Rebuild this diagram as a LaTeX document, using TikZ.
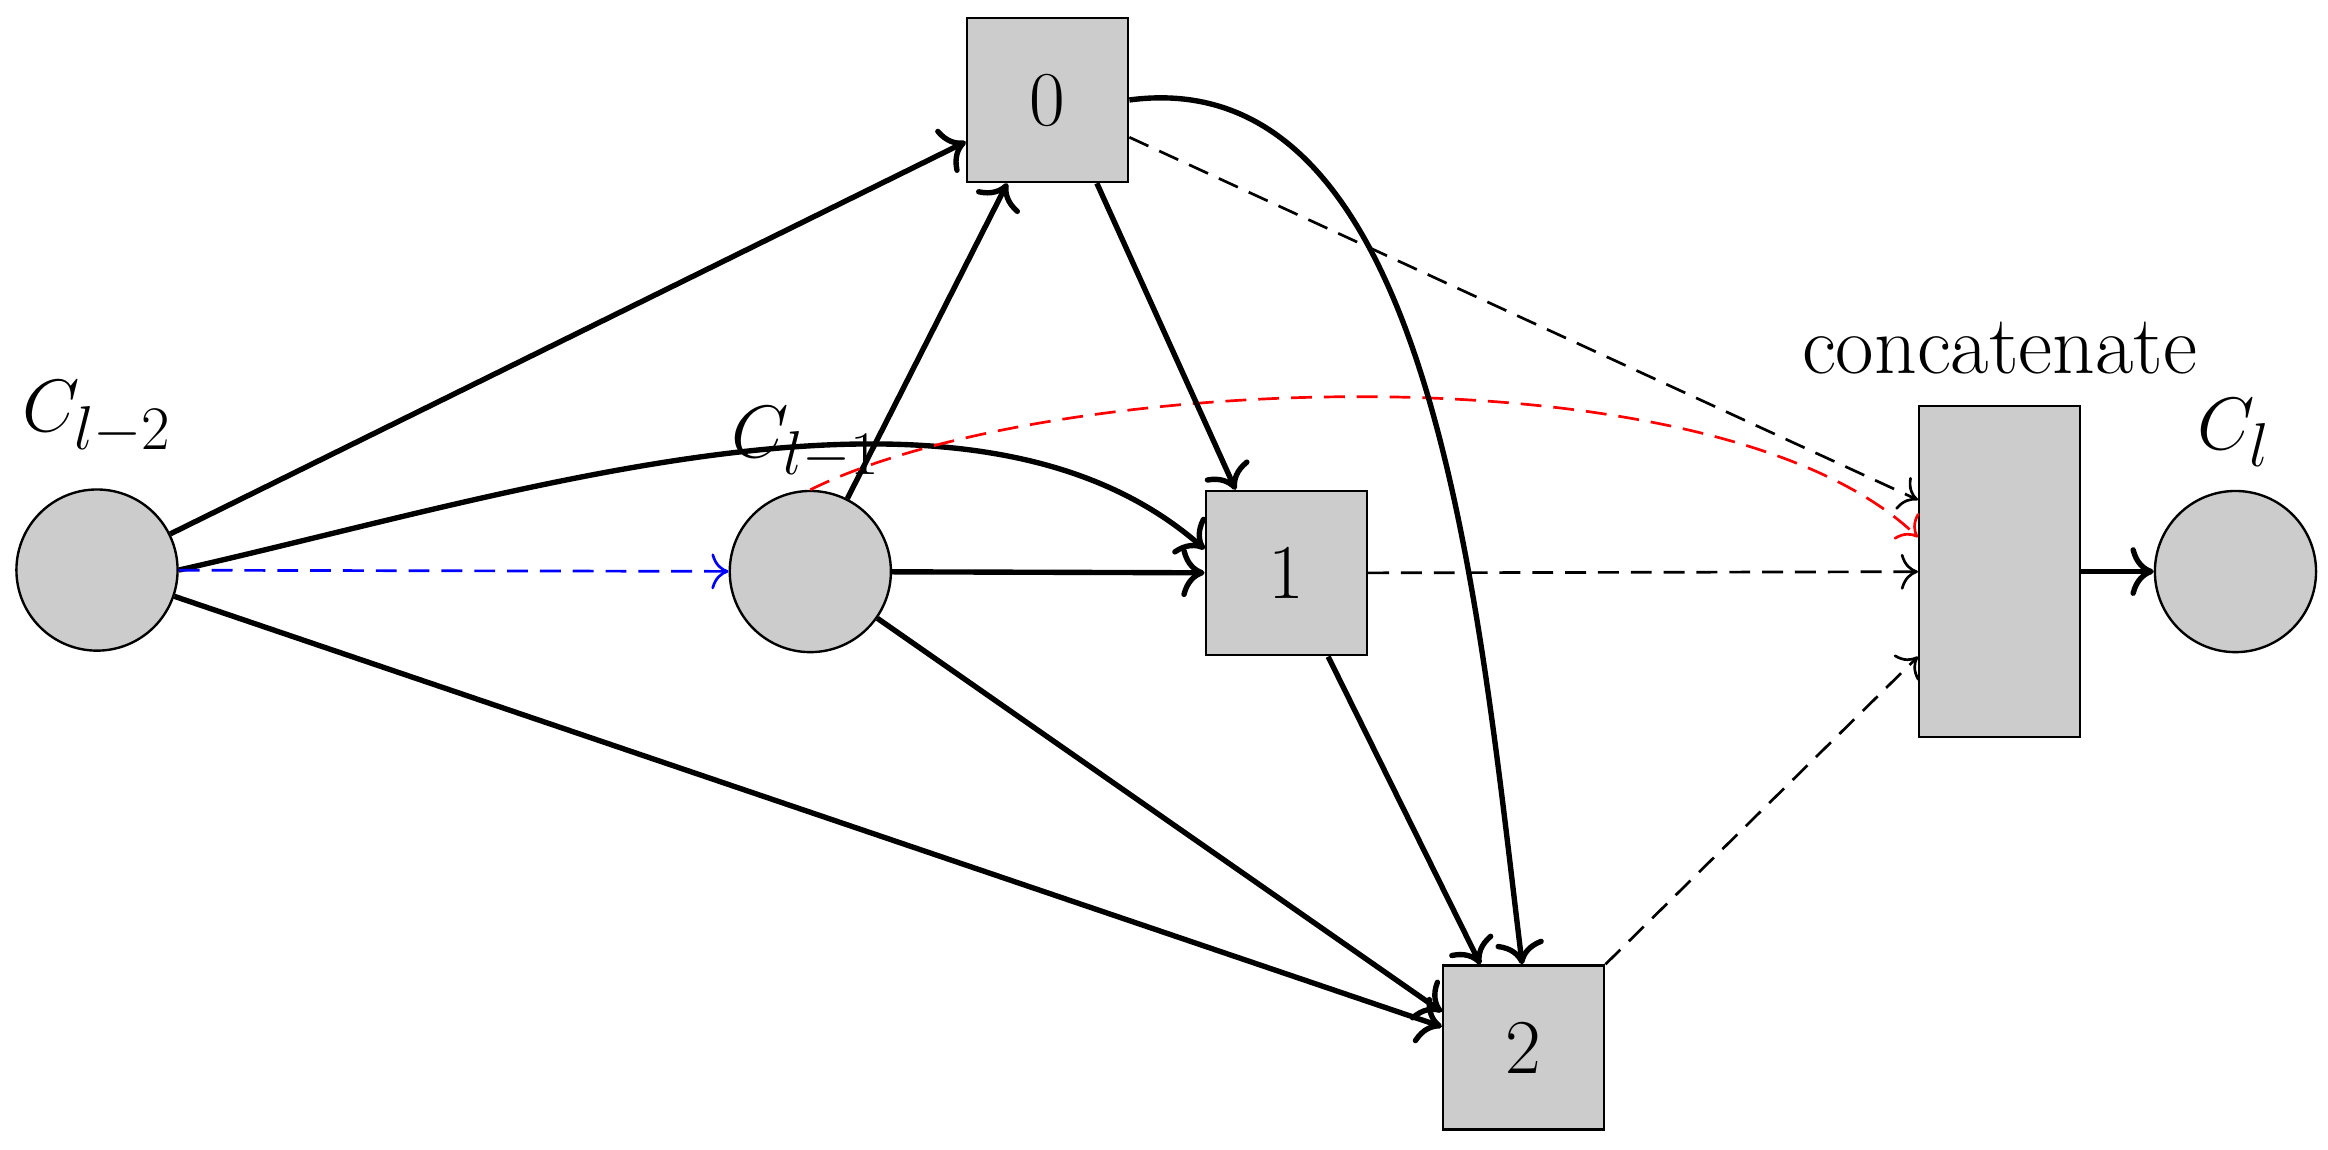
\documentclass[tikz,border=0pt]{standalone}
\usetikzlibrary{arrows.meta}
\begin{document}
\begin{tikzpicture}[x=0.5pt,y=-0.5pt,
  circ/.style={circle,draw,fill=black!20,line width=0.8pt,minimum size=54pt,inner sep=0pt},
  box/.style={rectangle,draw,fill=black!20,line width=0.8pt,minimum width=54pt,minimum height=55pt,inner sep=0pt,font=\fontsize{26}{30}\selectfont},
  lab/.style={font=\fontsize{28}{32}\selectfont},
  e/.style={-{To[scale=1.4]},line width=1.8pt},
  d/.style={-{To[scale=1.6]},dash pattern=on 7pt off 4pt,line width=0.9pt}]
\useasboundingbox (0,0) rectangle (1560,770);
\node[circ] (a) at (65,382) {};
\node[circ] (b) at (543,383) {};
\node[circ] (c) at (1498,383) {};
\node[box] (n0) at (702,67) {0};
\node[box] (n1) at (862,384) {1};
\node[box] (n2) at (1021,702) {2};
\node[box,minimum height=111pt] (cc) at (1340,383) {};
\node[lab] (la) at (65,280) {$C_{l-2}$};
\node[lab] (lb) at (540,297) {$C_{l-1}$};
\node[lab] (lc) at (1497,290) {$C_{l}$};
\node[lab] (lcc) at (1340,233) {concatenate};
\draw[e] (a) -- (n0.south west |- 0,95);
\draw[e] (a.east) .. controls (350,330) and (650,230) .. (n1.west |- 0,368);
\draw[d,blue] (a) -- (b);
\draw[e] (a) -- (n2.west |- 0,688);
\draw[e] (b) -- (n0.south west -| 675,0);
\draw[e] (b) -- (n1);
\draw[e] (b) -- (n2.west |- 0,678);
\draw[d,red] (b.north) .. controls (700,250) and (1150,230) .. (cc.west |- 0,360);
\draw[e] (n0.south east -| 735,0) -- (n1.north west -| 828,0);
\draw[e] (n0.east |- 0,67) .. controls (960,40) and (990,400) .. (n2.north -| 1020,0);
\draw[d] (n0.east |- 0,92) -- (cc.west |- 0,335);
\draw[d] (n1) -- (cc);
\draw[e] (n1.south |- 0,440) ++(28,0) -- (n2.north -| 992,0);
\draw[d] (n2.north east) -- (cc.west |- 0,440);
\draw[e] (cc) -- (c);
\end{tikzpicture}
\end{document}
